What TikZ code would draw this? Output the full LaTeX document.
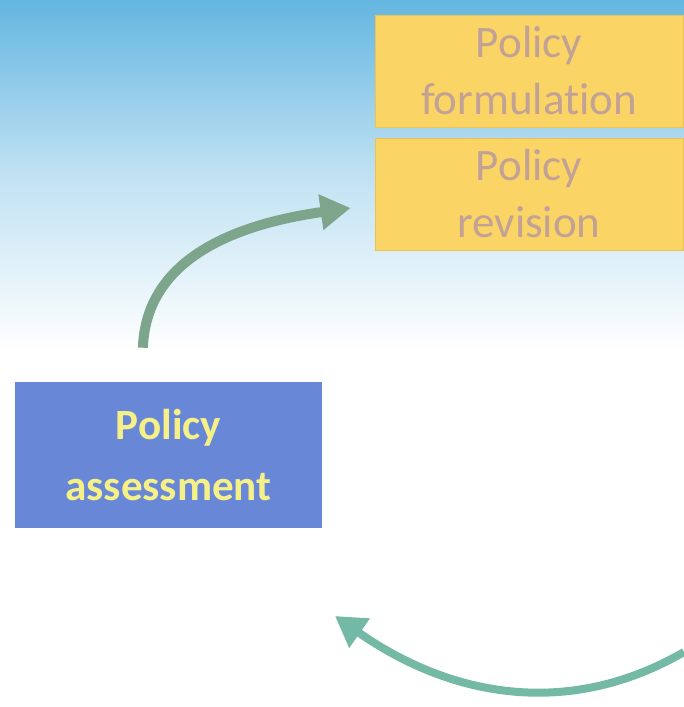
\documentclass[tikz,border=0pt]{standalone}
\usepackage{fontspec}
\setmainfont[Ligatures=NoCommon]{Carlito}
\usepackage{xcolor}
\usetikzlibrary{arrows.meta,positioning,calc}
\definecolor{skyblue}{RGB}{100,182,225}
\definecolor{stepyellow}{RGB}{250,212,100}
\definecolor{stepedge}{RGB}{235,195,80}
\definecolor{steptext}{RGB}{195,162,150}
\definecolor{assessblue}{RGB}{105,135,215}
\definecolor{assesstext}{RGB}{245,240,135}
\definecolor{arrowgreen}{RGB}{125,165,140}
\definecolor{arrowteal}{RGB}{115,185,165}

\begin{document}
\begin{tikzpicture}[
  >=Triangle,
  stagebox/.style={
    rectangle, fill=stepyellow, draw=stepedge, line width=0.6pt,
    minimum width=7.7cm, minimum height=2.8cm,
    align=center, text=steptext,
    font=\fontsize{32}{40.5}\selectfont
  },
  assessbox/.style={
    rectangle, fill=assessblue,
    minimum width=7.675cm, minimum height=3.65cm,
    align=center, text=assesstext,
    font=\fontsize{30.7}{42.7}\selectfont\bfseries
  },
  cyclearrow/.style={-{Triangle[length=0.75cm, width=0.85cm]}, line width=0.25cm}
]

% Canvas with the sky fading out towards the middle
\fill[white] (0,0) rectangle (17.1,-17.675);
\shade[top color=skyblue, bottom color=white, middle color=skyblue!40]
  (0,0) rectangle (17.1,-8.8);
\useasboundingbox (0,0) rectangle (17.1,-17.675);

% Stages of the cycle
\node[stagebox] (formulation) at (13.225, -1.775) {Policy\\formulation};
\node[stagebox] (revision) at (13.225, -4.85) {Policy\\revision};
\node[assessbox] (assess) at (4.2125, -11.375) {Policy\\assessment};

% Loose ends of the lower arrow
\coordinate (loopin) at (17.1, -16.3);
\coordinate (loopout) at (8.375, -15.4);

% Assessment feeds the revision
\draw[cyclearrow, draw=arrowgreen]
  ($(assess.north)+(-0.64,0.85)$) to[out=88, in=188]
  ($(revision.west)+(-0.6,-0.35)$);

% Returning arrow from the right
\draw[cyclearrow, draw=arrowteal, line width=0.2cm]
  (loopin) to[out=210, in=-35] (loopout);

\end{tikzpicture}
\end{document}
